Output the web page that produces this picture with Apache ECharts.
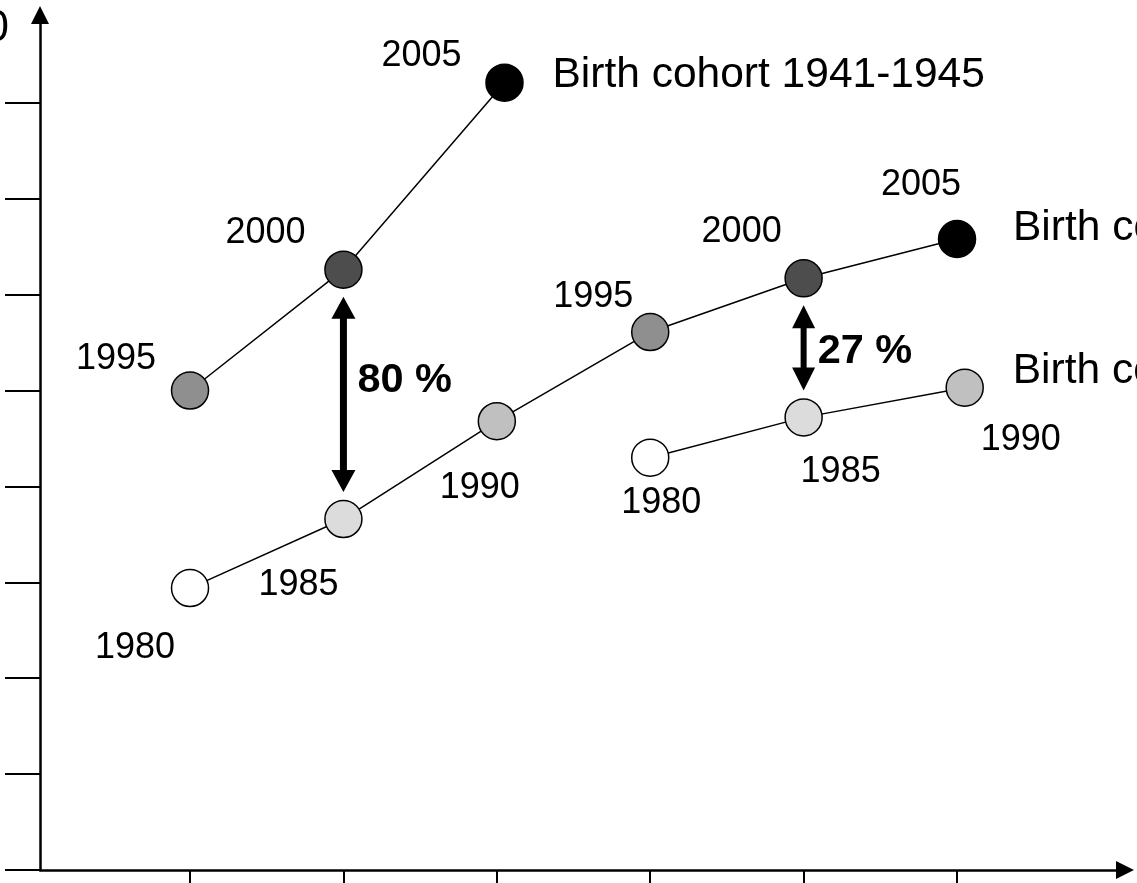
<!DOCTYPE html>
<html><head><meta charset="utf-8">
<script src="https://cdn.jsdelivr.net/npm/echarts@6/dist/echarts.min.js"></script>
<style>html,body{margin:0;padding:0;background:#fff}#c{width:1137px;height:883px}</style>
</head><body><div id="c"></div>
<script>
// ---- data ----
const cohortNames = ['Birth cohort 1941-1945', 'Birth cohort 1926-1930', 'Birth cohort 1911-1915'];
const yearsA = ['1995', '2000', '2005'];
const xA = [1, 2, 3.05];
const yA = [5.0, 6.26, 8.21];
const yearsB = ['1980', '1985', '1990', '1995', '2000', '2005'];
const xB = [1, 2, 3, 4, 5, 6];
const yB = [2.94, 3.66, 4.68, 5.61, 6.17, 6.58];
const yearsC = ['1980', '1985', '1990'];
const xC = [4, 5, 6.05];
const yC = [4.30, 4.72, 5.03];
const xTicks = [1, 2, 3, 4, 5, 6];
const yTicks = [0, 1, 2, 3, 4, 5, 6, 7, 8];
const gapLabels = ['80 %', '27 %'];
const cutLabel = '100';

// ---- styling ----
const yearColor = {'1980': '#ffffff', '1985': '#dcdcdc', '1990': '#c0c0c0', '1995': '#8f8f8f', '2000': '#4d4d4d', '2005': '#000000'};
const labelOffsets = [
  [[-74, -31], [-78, -37], [-83, -27]],
  [[-55, 60], [-45, 66], [-17, 67], [-57, -35], [-62, -46], [-36, -54]],
  [[11, 45], [37, 55], [56, 52]]
];
const endOffsets = [[48, -7], [56, -11], [48, -16]];
const FONT = 'Liberation Sans, Arial, sans-serif';

function mkSeries(i, xs, ys, years) {
  return {
    type: 'line', name: cohortNames[i],
    data: xs.map((x, k) => ({
      value: [x, ys[k]],
      itemStyle: {color: yearColor[years[k]], borderColor: '#000', borderWidth: 1.5},
      label: {show: true, formatter: years[k], position: 'inside', offset: labelOffsets[i][k],
        fontSize: 36, color: '#000', fontFamily: FONT}
    })),
    symbol: 'circle', symbolSize: 37, showAllSymbol: true,
    lineStyle: {color: '#000', width: 1.5},
    endLabel: {show: true, formatter: cohortNames[i], distance: 0, offset: endOffsets[i],
      fontSize: 42.5, color: '#000', fontFamily: FONT, align: 'left'},
    emphasis: {disabled: true}, animation: false, z: 3
  };
}

const arrowData = [
  [xA[1], yA[1], yB[1], 0, -14, 7, 24, 22],
  [xB[4], yB[4], yC[1], 1, 4, 6, 23, 23]
];

const arrowSeries = {
  type: 'custom', animation: false, silent: true, z: 2,
  data: arrowData,
  renderItem: function (params, api) {
    const top = api.coord([api.value(0), api.value(1)]);
    const bot = api.coord([api.value(0), api.value(2)]);
    const idx = api.value(3);
    const gap = 27;
    const x = top[0];
    const y1 = top[1] + gap, y2 = bot[1] - gap;
    const sw = api.value(5) / 2, hw = api.value(6) / 2, hl = api.value(7);
    const pts = [
      [x, y1], [x + hw, y1 + hl], [x + sw, y1 + hl], [x + sw, y2 - hl], [x + hw, y2 - hl],
      [x, y2], [x - hw, y2 - hl], [x - sw, y2 - hl], [x - sw, y1 + hl], [x - hw, y1 + hl]
    ];
    return {
      type: 'group', children: [
        {type: 'polygon', shape: {points: pts}, style: {fill: '#000'}},
        {type: 'text', x: x + 14, y: (top[1] + bot[1]) / 2 + api.value(4),
          style: {text: gapLabels[idx], fontSize: 41.5, fontWeight: 'bold', fontFamily: FONT,
            fill: '#000', align: 'left', verticalAlign: 'middle'}}
      ]
    };
  }
};

const chart = echarts.init(document.getElementById('c'), null, {renderer: 'canvas'});
chart.setOption({
  backgroundColor: '#fff',
  animation: false,
  grid: {left: 40, top: 15, right: 12, bottom: 13, containLabel: false},
  xAxis: {
    type: 'value', min: 0.022, max: 7.095,
    axisLine: {show: true, onZero: false, lineStyle: {color: '#000', width: 2.5}, symbol: ['none', 'triangle'], symbolSize: [18, 18]},
    axisTick: {show: true, inside: false, length: 15, customValues: xTicks, lineStyle: {color: '#000', width: 2}},
    axisLabel: {show: false},
    splitLine: {show: false}
  },
  yAxis: {
    type: 'value', min: 0, max: 8.916,
    axisLine: {show: true, onZero: false, lineStyle: {color: '#000', width: 2.5}, symbol: ['none', 'triangle'], symbolSize: [18, 18]},
    axisTick: {show: true, inside: false, length: 35, customValues: yTicks, lineStyle: {color: '#000', width: 2}},
    axisLabel: {show: false},
    splitLine: {show: false}
  },
  graphic: [{type: 'text', x: 9, y: 29, style: {text: cutLabel, fontSize: 44, fontFamily: FONT, fill: '#000', align: 'right', verticalAlign: 'middle'}}],
  series: [
    mkSeries(0, xA, yA, yearsA),
    mkSeries(1, xB, yB, yearsB),
    mkSeries(2, xC, yC, yearsC),
    arrowSeries
  ]
});
</script></body></html>
